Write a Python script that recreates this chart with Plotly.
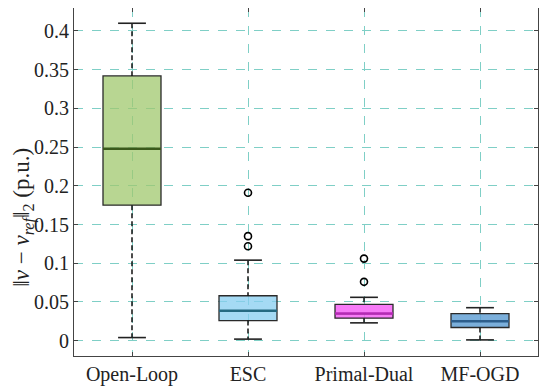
import plotly.graph_objects as go

categories = ["Open-Loop", "ESC", "Primal-Dual", "MF-OGD"]
q1 = [0.175, 0.026, 0.029, 0.017]
median = [0.248, 0.0388, 0.035, 0.025]
q3 = [0.342, 0.058, 0.047, 0.035]
lower_whisker = [0.004, 0.002, 0.023, 0.001]
upper_whisker = [0.41, 0.104, 0.056, 0.0426]
outliers = [[], [0.191, 0.135, 0.122], [0.106, 0.076], []]
y_ticks = [0, 0.05, 0.1, 0.15, 0.2, 0.25, 0.3, 0.35, 0.4]
y_ticktext = ["0", "0.05", "0.1", "0.15", "0.2", "0.25", "0.3", "0.35", "0.4"]
y_title = "‖<i>v</i> − <i>v</i><sub><i>ref</i></sub>‖<sub>2</sub> (p.u.)"

fill_colors = ["rgba(160,200,110,0.75)", "rgba(135,205,240,0.75)",
               "rgba(245,90,245,0.8)", "rgba(90,155,210,0.8)"]
median_colors = ["#3b5a1c", "#256a82", "#b42ab4", "#2d5e8c"]

BOX_W = 0.5
CAP_W = 0.12
pos = list(range(1, len(categories) + 1))

fig = go.Figure()
for i, name in enumerate(categories):
    x = pos[i]
    # whiskers (dashed)
    fig.add_trace(go.Scatter(
        x=[x, x, None, x, x],
        y=[upper_whisker[i], q3[i], None, q1[i], lower_whisker[i]],
        mode="lines", line=dict(color="#111111", width=1.5, dash="5px,3px"),
        showlegend=False, hoverinfo="skip"))
    # caps
    fig.add_trace(go.Scatter(
        x=[x - CAP_W, x + CAP_W, None, x - CAP_W, x + CAP_W],
        y=[upper_whisker[i], upper_whisker[i], None, lower_whisker[i], lower_whisker[i]],
        mode="lines", line=dict(color="#222222", width=1.6),
        showlegend=False, hoverinfo="skip"))
    # box
    fig.add_trace(go.Box(
        x=[x], q1=[q1[i]], median=[median[i]], q3=[q3[i]],
        lowerfence=[q1[i]], upperfence=[q3[i]],
        width=BOX_W, whiskerwidth=0, fillcolor=fill_colors[i],
        line=dict(color="#2a2a2a", width=1.3), boxpoints=False,
        showlegend=False, name=name))
    # median line
    fig.add_trace(go.Scatter(
        x=[x - BOX_W / 2, x + BOX_W / 2], y=[median[i], median[i]],
        mode="lines", line=dict(color=median_colors[i], width=2.5),
        showlegend=False, hoverinfo="skip"))
    # outliers
    if outliers[i]:
        fig.add_trace(go.Scatter(
            x=[x] * len(outliers[i]), y=outliers[i], mode="markers",
            marker=dict(symbol="circle-open", size=7, color="black",
                        line=dict(width=1.6, color="black")),
            showlegend=False))

grid_color = "#7fcfc6"
SERIF = "Liberation Serif"
axis_font = dict(family=SERIF, size=20, color="#222222")
fig.update_layout(
    width=542, height=384,
    margin=dict(l=66, r=12, t=0, b=36, autoexpand=False),
    plot_bgcolor="white", paper_bgcolor="white",
    font=axis_font,
    xaxis=dict(
        range=[0.5, 4.5], tickvals=pos, ticktext=categories,
        showgrid=True, gridcolor=grid_color, griddash="dash", gridwidth=1,
        showline=True, linecolor="#444444", linewidth=1.2, mirror="ticks",
        ticks="inside", ticklen=4, tickcolor="#444444", zeroline=False,
        tickfont=axis_font, automargin=False),
    yaxis=dict(
        range=[-0.0198, 0.4297], tickvals=y_ticks, ticktext=y_ticktext,
        showgrid=True, gridcolor=grid_color, griddash="dash", gridwidth=1,
        showline=True, linecolor="#444444", linewidth=1.2, mirror="ticks",
        ticks="inside", ticklen=4, tickcolor="#444444", zeroline=False,
        tickfont=axis_font, automargin=False),
    annotations=[dict(
        text=y_title, textangle=-90, xref="paper", yref="paper",
        x=-0.108, y=0.40, xanchor="center", yanchor="middle", showarrow=False,
        borderpad=0,
        font=dict(family=SERIF, size=23, color="#222222"))],
)

fig.write_html("out.html")
